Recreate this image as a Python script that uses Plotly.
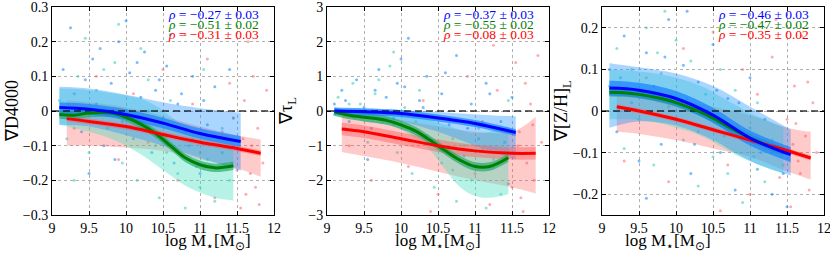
import plotly.graph_objects as go

# ---------------- data ----------------
X_TICKS = [9, 9.5, 10, 10.5, 11, 11.5, 12]
PANEL_TITLES = ["∇D4000", "∇τ<sub>L</sub>", "∇[Z/H]<sub>L</sub>"]
Y_RANGES = [[-0.3, 0.3], [-3, 3], [-0.25, 0.25]]
Y_TICKS = [[-0.3, -0.2, -0.1, 0, 0.1, 0.2, 0.3], [-3, -2, -1, 0, 1, 2, 3], [-0.2, -0.1, 0, 0.1, 0.2]]
RHO_BLUE = ["−0.27 ± 0.03", "−0.37 ± 0.03", "−0.46 ± 0.03"]
RHO_GREEN = ["−0.51 ± 0.02", "−0.55 ± 0.02", "−0.47 ± 0.02"]
RHO_RED = ["−0.31 ± 0.03", "−0.08 ± 0.03", "−0.35 ± 0.02"]

BLUE_X = [9.1, 9.5, 10.0, 10.5, 11.0, 11.55]
GREEN_X = [9.1, 9.3, 9.5, 9.8, 10.0, 10.2, 10.4, 10.6, 10.8, 11.0, 11.2, 11.45]
RED_X = [9.2, 9.5, 10.0, 10.5, 11.0, 11.5, 11.82]

# panel 1: D4000
D4_BLUE = [0.01, 0.005, -0.01, -0.035, -0.065, -0.088]
D4_BLUE_HI = [0.07, 0.065, 0.047, 0.025, 0.008, -0.005]
D4_BLUE_LO = [-0.04, -0.045, -0.07, -0.1, -0.135, -0.172]
D4_GREEN = [-0.01, -0.012, -0.006, -0.006, -0.018, -0.038, -0.065, -0.1, -0.135, -0.155, -0.164, -0.158]
D4_GREEN_HI = [0.065, 0.064, 0.06, 0.052, 0.045, 0.035, 0.015, -0.015, -0.05, -0.07, -0.08, -0.085]
D4_GREEN_LO = [-0.04, -0.05, -0.06, -0.08, -0.1, -0.125, -0.155, -0.185, -0.215, -0.235, -0.25, -0.258]
D4_RED = [-0.022, -0.03, -0.045, -0.068, -0.09, -0.108, -0.122]
D4_RED_HI = [0.03, 0.025, 0.01, -0.015, -0.045, -0.07, -0.082]
D4_RED_LO = [-0.1, -0.1, -0.105, -0.115, -0.14, -0.165, -0.19]
D4_NARROW = [0.015, 0.012, 0.008]

# panel 2: tau_L
TAU_BLUE = [0.0, -0.02, -0.07, -0.2, -0.36, -0.62]
TAU_BLUE_HI = [0.05, 0.05, 0.02, -0.03, -0.1, -0.15]
TAU_BLUE_LO = [-0.1, -0.15, -0.3, -0.6, -1.0, -1.4]
TAU_GREEN = [-0.02, -0.12, -0.18, -0.27, -0.4, -0.58, -0.85, -1.15, -1.42, -1.6, -1.6, -1.35]
TAU_GREEN_HI = [0.05, 0.02, -0.02, -0.06, -0.1, -0.17, -0.27, -0.4, -0.55, -0.65, -0.6, -0.45]
TAU_GREEN_LO = [-0.1, -0.2, -0.3, -0.4, -0.55, -0.8, -1.15, -1.7, -2.2, -2.45, -2.5, -2.4]
TAU_RED = [-0.52, -0.6, -0.8, -1.0, -1.15, -1.22, -1.22]
TAU_RED_HI = [0.0, -0.1, -0.25, -0.45, -0.6, -0.6, -0.17]
TAU_RED_LO = [-1.18, -1.3, -1.5, -1.75, -2.0, -2.2, -2.38]
TAU_NARROW = [0.1, 0.12, 0.18]

# panel 3: [Z/H]_L
ZH_BLUE = [0.055, 0.05, 0.03, -0.01, -0.065, -0.105]
ZH_BLUE_HI = [0.115, 0.105, 0.09, 0.06, 0.01, -0.045]
ZH_BLUE_LO = [-0.04, -0.025, -0.035, -0.07, -0.12, -0.155]
ZH_GREEN = [0.045, 0.044, 0.04, 0.03, 0.02, 0.007, -0.008, -0.027, -0.047, -0.065, -0.08, -0.097]
ZH_GREEN_HI = [0.1, 0.098, 0.095, 0.088, 0.08, 0.07, 0.055, 0.035, 0.015, -0.005, -0.02, -0.04]
ZH_GREEN_LO = [-0.02, -0.02, -0.022, -0.03, -0.04, -0.05, -0.065, -0.085, -0.105, -0.12, -0.135, -0.15]
ZH_RED = [0.01, 0.0, -0.02, -0.045, -0.07, -0.095, -0.113]
ZH_RED_HI = [0.05, 0.045, 0.03, 0.01, -0.01, -0.04, -0.05]
ZH_RED_LO = [-0.05, -0.055, -0.07, -0.09, -0.11, -0.145, -0.165]
ZH_NARROW = [0.018, 0.01, 0.006]

# scatter samples (read approximately)
D4_SB_X = [9.15, 9.3, 9.4, 9.55, 9.6, 9.7, 9.8, 9.9, 9.95, 10.05, 10.1, 10.2, 10.25, 10.35, 10.4, 10.5, 10.55, 10.65, 10.7, 10.8, 10.9, 11.0, 11.1, 11.2, 11.3, 11.45, 9.25, 10.0, 10.6, 9.5,
           9.2, 9.45, 9.65, 9.85, 10.15, 10.3, 10.45, 10.75, 10.85, 11.05, 11.25, 11.4]
D4_SB_Y = [0.12, 0.05, -0.06, 0.15, 0.02, -0.1, 0.08, 0.2, -0.03, 0.11, -0.08, 0.04, 0.17, -0.12, 0.06, -0.02, 0.13, -0.15, 0.02, -0.06, 0.1, -0.18, -0.04, 0.07, -0.12, -0.02, 0.24, 0.26, 0.22, -0.18,
           -0.02, 0.09, 0.18, -0.14, 0.14, 0.0, 0.09, 0.05, -0.1, 0.03, -0.08, 0.12]
D4_SG_X = [9.1, 9.2, 9.35, 9.5, 9.6, 9.75, 9.85, 9.95, 10.05, 10.15, 10.3, 10.4, 10.45, 10.6, 10.7, 10.8, 10.9, 11.0, 11.1, 11.2, 11.3, 11.4, 9.45, 9.9, 10.2, 11.05,
           9.3, 9.7, 10.1, 10.55, 10.95, 11.35]
D4_SG_Y = [0.03, -0.08, 0.1, -0.12, 0.06, -0.05, 0.14, -0.15, 0.0, -0.2, 0.09, -0.1, -0.25, 0.03, -0.18, -0.28, -0.08, -0.22, -0.14, -0.26, -0.05, -0.2, 0.21, 0.25, 0.18, 0.12,
           -0.2, 0.12, -0.05, -0.12, -0.16, -0.1]
D4_SR_X = [9.3, 9.6, 9.9, 10.1, 10.3, 10.5, 10.7, 10.9, 11.0, 11.1, 11.2, 11.3, 11.4, 11.5, 11.55, 11.6, 11.7, 11.75, 11.85, 11.9, 11.65, 11.45, 10.8, 11.8,
           11.58, 11.68, 11.78, 11.62, 11.72]
D4_SR_Y = [-0.05, 0.1, -0.14, 0.05, -0.09, 0.12, -0.2, 0.02, -0.12, 0.15, -0.25, -0.06, 0.08, -0.17, -0.28, 0.03, -0.1, -0.22, -0.15, 0.06, 0.2, -0.02, 0.22, -0.27,
           -0.08, -0.18, -0.05, -0.24, 0.1]

TAU_SB_X = [9.1, 9.2, 9.3, 9.4, 9.5, 9.6, 9.7, 9.8, 9.9, 10.0, 10.05, 10.15, 10.25, 10.35, 10.45, 10.55, 10.65, 10.75, 10.85, 10.95, 11.05, 11.15, 11.25, 11.35, 11.45, 11.5, 10.1, 9.55,
            9.25, 9.65, 9.95, 10.3, 10.6, 10.9, 11.2, 11.4]
TAU_SB_Y = [0.2, 0.6, -0.3, 0.9, 0.1, -0.5, 1.2, 0.4, -0.2, 1.5, 0.7, -0.6, 0.3, 1.0, -1.0, 0.5, -0.4, 1.6, -1.3, 0.2, -0.8, 0.8, -1.6, -0.3, -2.1, 0.4, 2.1, -1.4,
            0.3, 0.6, 0.8, 0.1, 1.1, -0.5, 0.5, -0.9]
TAU_SG_X = [9.1, 9.15, 9.25, 9.35, 9.45, 9.55, 9.65, 9.75, 9.85, 9.95, 10.05, 10.15, 10.25, 10.35, 10.45, 10.55, 10.65, 10.75, 10.85, 10.95, 11.05, 11.15, 11.25, 11.35, 11.45, 9.9,
            9.3, 9.7, 10.2, 10.7, 11.1]
TAU_SG_Y = [-0.1, 0.4, -0.5, 0.8, 0.2, -0.9, 0.5, -0.3, 1.3, -1.2, 0.1, -1.8, 0.6, -0.7, -2.2, -1.5, -0.2, -2.6, -1.0, -2.0, -0.5, -2.8, -1.4, -2.4, 0.3, 1.7,
            0.2, 0.9, -0.3, -1.7, -1.1]
TAU_SR_X = [9.3, 9.6, 9.9, 10.1, 10.3, 10.5, 10.7, 10.9, 11.0, 11.1, 11.2, 11.3, 11.4, 11.5, 11.55, 11.6, 11.65, 11.7, 11.75, 11.8, 11.85, 11.9, 10.4, 11.25,
            11.58, 11.68, 11.78, 11.62]
TAU_SR_Y = [-1.0, -2.0, -0.4, -1.6, 0.3, -2.4, -0.8, 1.0, -1.8, -0.3, -2.7, 0.6, -1.2, -2.2, 1.4, -0.6, -2.9, -1.5, 0.2, -2.0, 1.6, -0.9, -2.9, 1.9,
            -1.0, 0.8, -0.4, -2.5]

ZH_SB_X = [9.1, 9.2, 9.3, 9.4, 9.5, 9.6, 9.7, 9.8, 9.9, 10.0, 10.1, 10.2, 10.3, 10.4, 10.5, 10.6, 10.7, 10.8, 10.9, 11.0, 11.1, 11.2, 11.3, 11.4, 11.5, 9.6, 10.15,
           9.25, 9.55, 9.85, 10.25, 10.55, 10.85, 11.15, 11.45]
ZH_SB_Y = [0.1, -0.05, 0.18, 0.02, -0.12, 0.14, 0.06, -0.08, 0.22, 0.0, 0.11, -0.15, 0.07, -0.04, 0.16, -0.1, 0.03, -0.19, -0.06, 0.08, -0.14, -0.02, -0.2, -0.09, -0.23, -0.21, 0.24,
           0.08, 0.04, 0.13, -0.08, 0.05, 0.02, -0.1, -0.15]
ZH_SG_X = [9.1, 9.2, 9.3, 9.4, 9.5, 9.6, 9.7, 9.8, 9.9, 10.0, 10.1, 10.2, 10.3, 10.4, 10.5, 10.6, 10.7, 10.8, 10.9, 11.0, 11.1, 11.2, 11.3, 11.45, 9.85,
           9.35, 9.75, 10.15, 10.65, 11.05]
ZH_SG_Y = [0.06, 0.15, -0.09, 0.1, -0.02, 0.2, -0.13, 0.09, 0.01, 0.17, -0.07, 0.12, -0.18, 0.04, -0.11, 0.1, -0.15, 0.05, -0.22, -0.04, 0.02, -0.17, -0.07, -0.13, 0.24,
           0.05, 0.14, 0.03, -0.06, -0.11]
ZH_SR_X = [9.3, 9.6, 9.9, 10.1, 10.3, 10.5, 10.7, 10.9, 11.0, 11.1, 11.2, 11.3, 11.4, 11.5, 11.55, 11.6, 11.65, 11.7, 11.75, 11.8, 11.85, 11.9, 10.6, 11.35,
           11.58, 11.68, 11.78, 11.62]
ZH_SR_Y = [-0.12, 0.08, -0.17, 0.15, -0.05, 0.19, -0.13, 0.1, -0.2, 0.04, -0.09, 0.13, -0.16, -0.02, -0.23, 0.06, -0.12, 0.18, -0.06, -0.19, 0.02, -0.1, -0.24, 0.22,
           -0.08, -0.15, 0.07, -0.03]

# ---------------- style ----------------
C_BLUE, C_GREEN, C_RED = "#0000ff", "#008000", "#ff0000"
PT_BLUE, PT_GREEN, PT_RED = "rgba(30,144,255,0.6)", "rgba(64,210,190,0.6)", "rgba(255,90,90,0.5)"
BAND_BLUE, BAND_GREEN, BAND_RED = "rgba(30,144,255,0.38)", "rgba(64,224,190,0.38)", "rgba(255,80,80,0.3)"
NB_BLUE, NB_GREEN, NB_RED = "rgba(20,130,255,0.7)", "rgba(40,170,110,0.7)", "rgba(255,90,90,0.45)"
SERIF = "Liberation Serif"

panels = [
    dict(sb=(D4_SB_X, D4_SB_Y), sg=(D4_SG_X, D4_SG_Y), sr=(D4_SR_X, D4_SR_Y),
         blue=(D4_BLUE, D4_BLUE_HI, D4_BLUE_LO), green=(D4_GREEN, D4_GREEN_HI, D4_GREEN_LO),
         red=(D4_RED, D4_RED_HI, D4_RED_LO), nb=D4_NARROW),
    dict(sb=(TAU_SB_X, TAU_SB_Y), sg=(TAU_SG_X, TAU_SG_Y), sr=(TAU_SR_X, TAU_SR_Y),
         blue=(TAU_BLUE, TAU_BLUE_HI, TAU_BLUE_LO), green=(TAU_GREEN, TAU_GREEN_HI, TAU_GREEN_LO),
         red=(TAU_RED, TAU_RED_HI, TAU_RED_LO), nb=TAU_NARROW),
    dict(sb=(ZH_SB_X, ZH_SB_Y), sg=(ZH_SG_X, ZH_SG_Y), sr=(ZH_SR_X, ZH_SR_Y),
         blue=(ZH_BLUE, ZH_BLUE_HI, ZH_BLUE_LO), green=(ZH_GREEN, ZH_GREEN_HI, ZH_GREEN_LO),
         red=(ZH_RED, ZH_RED_HI, ZH_RED_LO), nb=ZH_NARROW),
]

W, H = 830, 253
X_DOMAINS = [[52 / W, 274 / W], [327 / W, 549 / W], [602 / W, 824 / W]]
Y_DOMAIN = [1 - 215 / H, 1 - 7 / H]

fig = go.Figure()


def band(xs, hi, lo, color, xa, ya):
    fig.add_trace(go.Scatter(x=xs, y=lo, mode="lines", line=dict(width=0, shape="spline"),
                             hoverinfo="skip", showlegend=False, xaxis=xa, yaxis=ya))
    fig.add_trace(go.Scatter(x=xs, y=hi, mode="lines", line=dict(width=0, shape="spline"),
                             fill="tonexty", fillcolor=color,
                             hoverinfo="skip", showlegend=False, xaxis=xa, yaxis=ya))


for i, p in enumerate(panels):
    xa = "x" if i == 0 else f"x{i + 1}"
    ya = "y" if i == 0 else f"y{i + 1}"
    # scatter points
    for (sx, sy), col in [(p["sb"], PT_BLUE), (p["sg"], PT_GREEN), (p["sr"], PT_RED)]:
        fig.add_trace(go.Scatter(x=sx, y=sy, mode="markers", marker=dict(size=3, color=col),
                                 showlegend=False, xaxis=xa, yaxis=ya))
    # wide bands
    band(RED_X, p["red"][1], p["red"][2], BAND_RED, xa, ya)
    band(GREEN_X, p["green"][1], p["green"][2], BAND_GREEN, xa, ya)
    band(BLUE_X, p["blue"][1], p["blue"][2], BAND_BLUE, xa, ya)
    # narrow bands
    for xs, vals, w, col in [(RED_X, p["red"][0], p["nb"][2], NB_RED),
                             (GREEN_X, p["green"][0], p["nb"][1], NB_GREEN),
                             (BLUE_X, p["blue"][0], p["nb"][0], NB_BLUE)]:
        band(xs, [v + w for v in vals], [v - w for v in vals], col, xa, ya)
    # zero line
    fig.add_trace(go.Scatter(x=[9, 12], y=[0, 0], mode="lines",
                             line=dict(color="rgba(0,0,0,0.8)", width=1.3, dash="7px,4px"),
                             showlegend=False, xaxis=xa, yaxis=ya))
    # fit lines
    for xs, vals, col in [(GREEN_X, p["green"][0], C_GREEN), (RED_X, p["red"][0], C_RED),
                          (BLUE_X, p["blue"][0], C_BLUE)]:
        fig.add_trace(go.Scatter(x=xs, y=vals, mode="lines", line=dict(color=col, width=3, shape="spline"),
                                 showlegend=False, xaxis=xa, yaxis=ya))

    axis_common = dict(showline=True, linecolor="black", linewidth=1, mirror="ticks", ticks="inside",
                       ticklen=4, tickcolor="black", showgrid=True, gridcolor="#b0b0b0", griddash="dot",
                       gridwidth=1, zeroline=False, automargin=False, ticklabeloverflow="allow",
                       tickfont=dict(family=SERIF, size=14, color="black"))
    fig.update_layout(**{
        ("xaxis" if i == 0 else f"xaxis{i + 1}"): dict(domain=X_DOMAINS[i], range=[9, 12], tickvals=X_TICKS,
                                                         anchor=ya, **axis_common),
        ("yaxis" if i == 0 else f"yaxis{i + 1}"): dict(domain=Y_DOMAIN, range=Y_RANGES[i], tickvals=Y_TICKS[i],
                                                         anchor=xa, **axis_common),
    })
    x0, x1 = X_DOMAINS[i]
    # axis titles
    fig.add_annotation(x=(x0 + x1) / 2, y=1 - 242 / H, xref="paper", yref="paper", showarrow=False,
                       yanchor="middle",
                       text="log M<sub>⋆</sub>[M<sub>⊙</sub>]", font=dict(family=SERIF, size=17, color="black"))
    fig.add_annotation(x=x0 - 40 / W, y=1 - 111 / H, xref="paper", yref="paper", showarrow=False, textangle=-90,
                       xanchor="center", yanchor="middle",
                       text=PANEL_TITLES[i], font=dict(family=SERIF, size=18, color="black"))
    # rho annotations
    for k, (txt, col) in enumerate([(RHO_BLUE[i], C_BLUE), (RHO_GREEN[i], C_GREEN), (RHO_RED[i], C_RED)]):
        fig.add_annotation(x=x1 - 13 / W, y=1 - (15 + 10 * k) / H, xref="paper", yref="paper", showarrow=False,
                           xanchor="right", yanchor="middle", text=f"<i>ρ</i> = {txt}",
                           font=dict(family=SERIF, size=13.5, color=col))

fig.update_layout(width=W, height=H, margin=dict(l=0, r=0, t=0, b=0), plot_bgcolor="white",
                  paper_bgcolor="white", template="none", showlegend=False)
fig.write_html("out.html", config={"displayModeBar": False},
               post_script="document.body.style.margin='0';document.body.style.overflow='hidden';")
